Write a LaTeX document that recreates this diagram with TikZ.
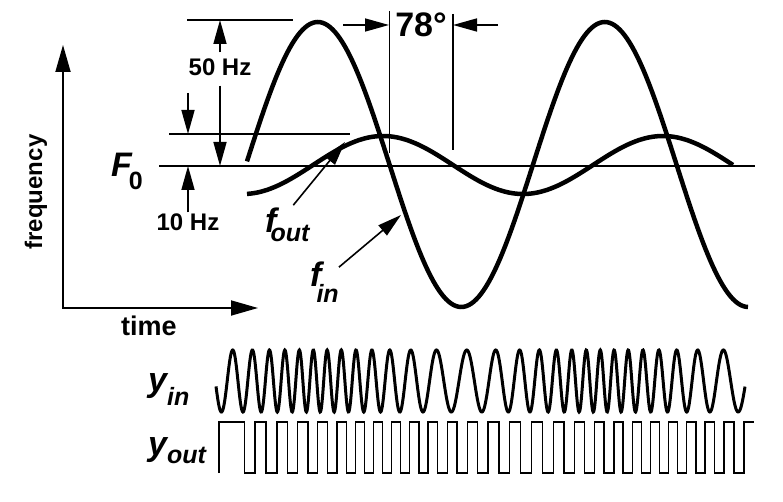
\documentclass[tikz,border=0pt]{standalone}
\usepackage{fontspec}
\setmainfont{Liberation Sans}
\usetikzlibrary{positioning,arrows.meta}

\newcommand{\lblbig}{\fontsize{34}{34}\selectfont\bfseries\itshape}
\newcommand{\lblsub}{\fontsize{25}{25}\selectfont\bfseries\itshape}

\begin{document}
\begin{tikzpicture}[x=1pt, y=-1pt,
  curve/.style={line width=4.5pt},
  refline/.style={line width=2pt},
  axes/.style={{Triangle[length=27pt,width=15pt]}-{Triangle[length=27pt,width=15pt]}, line width=1.8pt},
  dimarr/.style={-{Triangle[length=24pt,width=13pt]}, line width=1.6pt},
  lbl/.style={font=\fontsize{24}{24}\selectfont\bfseries, inner sep=0pt},
  sym/.style={inner sep=0pt, anchor=base west}
]
\useasboundingbox (0,0) rectangle (783,502);

\coordinate (origin) at (63,308);
\coordinate (ftip) at (63,45);
\coordinate (ttip) at (258,308);
\draw[axes] (ftip) -- (origin) -- (ttip);
\node[lbl, rotate=90] (freq) at (36,192) {frequency};
\node[lbl, font=\fontsize{27}{27}\selectfont\bfseries] (time) at (149,326) {time};

\coordinate (top50) at (220,20);
\coordinate (bot50) at (220,166);
\coordinate (top10) at (188,134);
\coordinate (bot10) at (188,166);
\coordinate (t10) at (188,93);
\draw[refline] (159,166) -- (755,166);
\draw[refline] (169,134) -- (350,134);
\draw[refline] (187,20) -- (293,20);

\node[lbl] (hz50) at (220,67) {50 Hz};
\draw[dimarr] ([yshift=6pt]hz50.north) -- (top50);
\draw[dimarr] ([yshift=-10pt]hz50.south) -- (bot50);
\node[lbl] (hz10) at (188,222) {10 Hz};
\draw[dimarr] (t10) -- (top10);
\draw[dimarr] ([yshift=1pt]hz10.north) -- (bot10);

\node[lbl, font=\fontsize{34}{34}\selectfont\bfseries] (deg) at (421,25) {78°};
\coordinate (ph1top) at (389,11);
\coordinate (ph1bot) at (389,153);
\coordinate (ph2top) at (453,14);
\coordinate (ph2bot) at (453,150);
\coordinate (ph1tail) at (343,25);
\coordinate (ph2tail) at (498,25);
\draw[line width=1pt] (ph1top) -- (ph1bot);
\draw[refline] (ph2top) -- (ph2bot);
\draw[dimarr] (ph1tail) -- (ph1tail -| ph1top);
\draw[dimarr] (ph2tail) -- (ph2tail -| ph2top);

\draw[curve] plot[domain=247:748, samples=200] (\x, {164.5-142.5*sin(1.254355*(\x-246))});
\draw[curve] plot[domain=247:733, samples=200] (\x, {165-29*sin(1.285714*(\x-313))});

\node[sym] (F0) at (111,177) {\lblbig F\kern-3pt\raisebox{-13pt}{\fontsize{25}{25}\selectfont\bfseries\upshape 0}};
\node[sym] (fout) at (265,233) {\lblbig f\kern-6pt\raisebox{-9pt}{\lblsub out}};
\node[sym] (fin) at (310,287) {\lblbig f\kern-5pt\raisebox{-15pt}{\lblsub in}};
\coordinate (fouttip) at (345,142);
\coordinate (fintip) at (401,215);
\draw[dimarr] ([xshift=6pt,yshift=3pt]fout.north) -- (fouttip);
\draw[dimarr] ([yshift=-5pt]fin.north east) -- (fintip);

\node[sym] (yin) at (148,391) {\lblbig y\raisebox{-14pt}{\lblsub in}};
\node[sym] (yout) at (148,455) {\lblbig y\raisebox{-8pt}{\lblsub out}};
\draw[line width=3pt] plot[domain=216:745, samples=1200]
  (\x, {381+31*sin(10+18.82*(\x-216)-328.9*(cos(1.254355*(\x-246))-0.7920))});
\draw[line width=1.7pt] (219,473) -- plot[const plot, domain=219:753, samples=1069]
  (\x, {(\x<240 || sin(18.216*(\x-255)-80.21*(cos(1.285714*(\x-313))-0.2660))>=0) ? 422 : 473});
\end{tikzpicture}
\end{document}
